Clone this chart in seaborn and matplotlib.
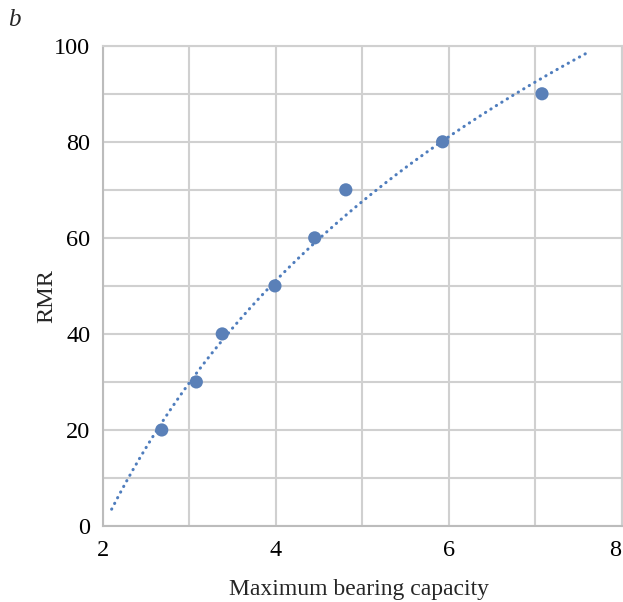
import numpy as np
import pandas as pd
import matplotlib
matplotlib.use("Agg")
import matplotlib.pyplot as plt
import seaborn as sns

# Data
bearing_capacity = [2.68, 3.08, 3.38, 3.99, 4.45, 4.81, 5.93, 7.08]
rmr = [20, 30, 40, 50, 60, 70, 80, 90]
trend_x_start = 2.1
trend_x_end = 7.6
x_ticks = [2, 4, 6, 8]
y_ticks = [0, 20, 40, 60, 80, 100]

df = pd.DataFrame({"Maximum bearing capacity": bearing_capacity, "RMR": rmr})

sns.set_style("white")
plt.rcParams["font.family"] = ["Liberation Serif", "DejaVu Serif"]

fig = plt.figure(figsize=(6.23, 6.02), dpi=100)
ax = fig.add_axes([0.1653, 0.1262, 0.8323, 0.7978])

# logarithmic trend line fitted to the data (as in the source chart)
a, b = np.polyfit(np.log(df["Maximum bearing capacity"]), df["RMR"], 1)
tx = np.linspace(trend_x_start, trend_x_end, 200)
ty = a * np.log(tx) + b
ax.plot(tx, ty, color="#4f7dbd", lw=2.2, linestyle=(0, (0.1, 2.0)),
        dash_capstyle="round", zorder=2)

sns.scatterplot(data=df, x="Maximum bearing capacity", y="RMR", ax=ax,
                s=90, color="#5a80b8", edgecolor="none", zorder=3)

ax.set_xlim(2, 8)
ax.set_ylim(0, 100)
ax.set_xticks(x_ticks)
ax.set_yticks(y_ticks)
ax.set_xticks(np.arange(2, 8.01, 1), minor=True)
ax.set_yticks(np.arange(0, 100.01, 10), minor=True)
ax.grid(True, which="both", color="#d0d0d0", lw=1.5)
ax.set_axisbelow(True)

for side in ["top", "right"]:
    ax.spines[side].set_color("#d0d0d0")
    ax.spines[side].set_linewidth(1.5)
for side in ["left", "bottom"]:
    ax.spines[side].set_color("#bcbcbc")
    ax.spines[side].set_linewidth(1.5)

ax.tick_params(which="both", length=0, labelsize=17.5, colors="black")
ax.tick_params(axis="y", pad=9)
ax.tick_params(axis="x", pad=10)
ax.get_xticklabels()[-1].set_horizontalalignment("right")

ax.set_xlabel("Maximum bearing capacity", fontsize=17)
ax.xaxis.set_label_coords(0.494, -0.11)
ax.set_ylabel("RMR", fontsize=17.5)
ax.yaxis.set_label_coords(-0.088, 0.479)

fig.text(14 / 623, 1 - 20 / 602, "b", fontsize=18, style="italic",
         ha="center", va="center")

fig.savefig("out.png", dpi=100)
